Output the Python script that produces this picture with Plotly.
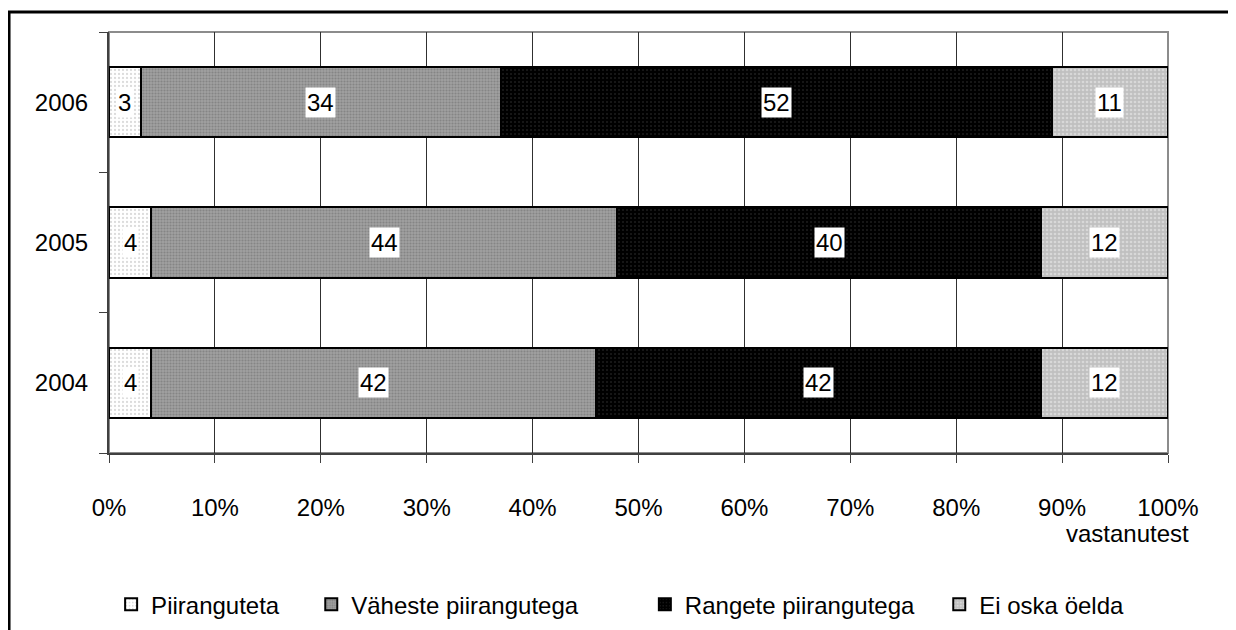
import plotly.graph_objects as go

years = ["2004", "2005", "2006"]
series_names = ["Piiranguteta", "Väheste piirangutega", "Rangete piirangutega", "Ei oska öelda"]
piiranguteta = [4, 4, 3]
vaheste = [42, 44, 34]
rangete = [42, 40, 52]
ei_oska = [12, 12, 11]
x_ticks = [0, 10, 20, 30, 40, 50, 60, 70, 80, 90, 100]
x_tick_labels = [f"{v}%" for v in x_ticks]

values = [piiranguteta, vaheste, rangete, ei_oska]
patterns = [
    dict(shape=".", bgcolor="#ffffff", fgcolor="#b8b8b8", size=4, solidity=0.25, fillmode="overlay"),
    dict(shape=".", bgcolor="#a0a0a0", fgcolor="#6a6a6a", size=3, solidity=0.4, fillmode="overlay"),
    dict(shape=".", bgcolor="#000000", fgcolor="#3a3a3a", size=4, solidity=0.2, fillmode="overlay"),
    dict(shape=".", bgcolor="#c0c0c0", fgcolor="#f0f0f0", size=4, solidity=0.35, fillmode="overlay"),
]
legend_ids = ["legend", "legend2", "legend3", "legend4"]
legend_x = [0.002, 0.191, 0.506, 0.784]

FONT = "Liberation Sans, Arial, sans-serif"
FS = 24

fig = go.Figure()
for name, vals, pat, lg in zip(series_names, values, patterns, legend_ids):
    fig.add_trace(go.Bar(
        y=years, x=vals, name=name, orientation="h", width=0.5, legend=lg,
        marker=dict(color=pat["bgcolor"], pattern=pat, line=dict(color="#000000", width=2)),
        hoverinfo="x+y+name",
    ))

annotations = []
for i, yr in enumerate(years):
    cum = 0
    for vals in values:
        v = vals[i]
        annotations.append(dict(
            x=cum + v / 2, y=i, xref="x", yref="y", text=str(v), showarrow=False,
            font=dict(family=FONT, size=FS, color="#000000"),
            bgcolor="#ffffff", borderpad=1,
        ))
        cum += v

annotations.append(dict(
    x=1.022, y=-0.192, xref="paper", yref="paper", text="vastanutest", showarrow=False,
    xanchor="right", yanchor="middle", font=dict(family=FONT, size=FS, color="#000000"),
))

shapes = [
    dict(type="rect", xref="paper", yref="paper", x0=0, x1=1, y0=0, y1=1,
         line=dict(color="#8c8c8c", width=2), layer="below"),
    dict(type="rect", xref="paper", yref="paper", x0=-0.0944, x1=1.0633, y0=-0.46, y1=1.0475,
         line=dict(color="#000000", width=3), layer="above"),
]

legend_common = dict(
    orientation="h", y=-0.36, xanchor="left", yanchor="middle",
    font=dict(family=FONT, size=FS, color="#000000"), itemwidth=30,
    bgcolor="rgba(0,0,0,0)",
)

layout_legends = {}
for lg, lx in zip(legend_ids, legend_x):
    layout_legends[lg] = dict(legend_common, x=lx)

fig.update_layout(
    width=1228, height=622,
    margin=dict(l=101, r=68, t=24, b=177, autoexpand=False),
    barmode="stack",
    paper_bgcolor="#ffffff", plot_bgcolor="#ffffff",
    font=dict(family=FONT, size=FS, color="#000000"),
    annotations=annotations,
    shapes=shapes,
    showlegend=True,
    xaxis=dict(
        range=[0, 100], tickvals=x_ticks, ticktext=x_tick_labels,
        showgrid=True, gridcolor="#303030", gridwidth=1,
        showline=True, linecolor="#404040", linewidth=2,
        ticks="outside", ticklen=8, tickcolor="#404040", tickwidth=1,
        ticklabelstandoff=24, zeroline=False, automargin=False,
        tickfont=dict(family=FONT, size=FS, color="#000000"),
    ),
    yaxis=dict(
        categoryorder="array", categoryarray=years, type="category",
        range=[-0.5, 2.5], autorange=False,
        showline=True, linecolor="#404040", linewidth=2,
        ticks="outside", ticklen=8, tickcolor="#404040", tickwidth=1,
        tickson="boundaries", showgrid=False, ticklabelstandoff=14, automargin=False,
        tickfont=dict(family=FONT, size=FS, color="#000000"),
    ),
    **layout_legends,
)

fig.write_html("out.html")
